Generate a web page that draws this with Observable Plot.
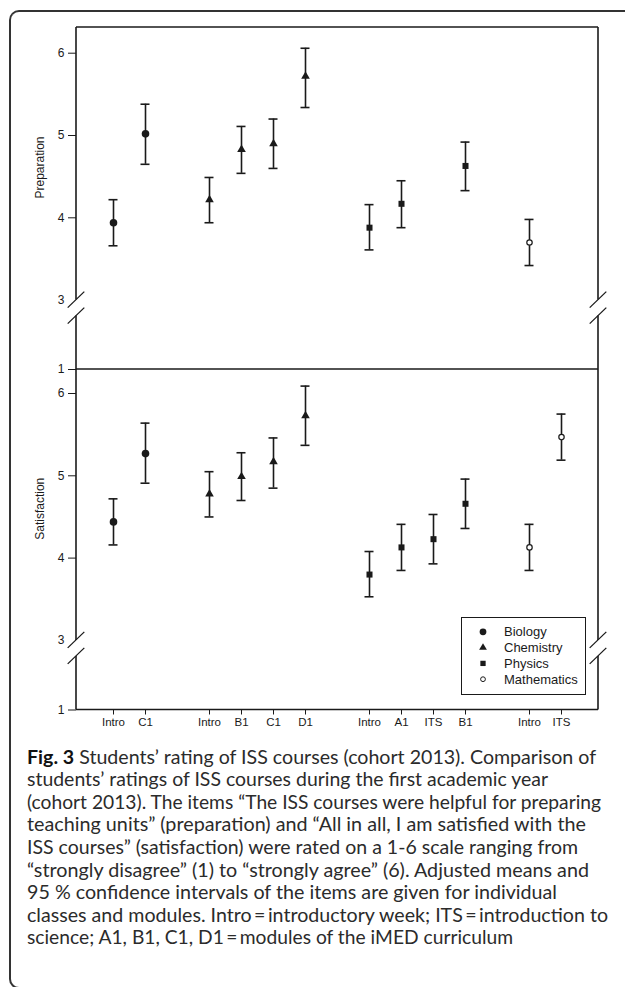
<!DOCTYPE html>
<html>
<head>
<meta charset="utf-8">
<script src="https://cdn.jsdelivr.net/npm/d3@7"></script>
<script src="https://cdn.jsdelivr.net/npm/@observablehq/plot@0.6"></script>
<style>
  body { margin: 0; background: #fff; }
  #wrap { position: relative; width: 625px; height: 987px; overflow: hidden; font-family: "Liberation Sans", Arial, sans-serif; }
  #wrap > svg, #wrap > div { position: absolute; }
  .capline { position: absolute; left: 27px; white-space: nowrap; font-family: Lato, "Open Sans", sans-serif; font-size: 18.8px; line-height: 22.6px; color: #2b2b2b; transform-origin: 0 50%; }
  .capline b { color: #111; font-weight: 700; }
</style>
</head>
<body>
<div id="wrap"></div>
<script>
// ---------- data ----------
const subjects = ["Biology","Biology","Chemistry","Chemistry","Chemistry","Chemistry","Physics","Physics","Physics","Physics","Mathematics","Mathematics"];
const courses  = ["Intro","C1","Intro","B1","C1","D1","Intro","A1","ITS","B1","Intro","ITS"];

const prepMean = [3.94, 5.02, 4.22, 4.83, 4.90, 5.72, 3.88, 4.17, null, 4.63, 3.70, null];
const prepLow  = [3.66, 4.65, 3.94, 4.54, 4.60, 5.34, 3.61, 3.88, null, 4.33, 3.42, null];
const prepHigh = [4.22, 5.38, 4.49, 5.11, 5.20, 6.06, 4.16, 4.45, null, 4.92, 3.98, null];

const satMean = [4.44, 5.27, 4.78, 4.99, 5.17, 5.73, 3.80, 4.13, 4.23, 4.66, 4.13, 5.47];
const satLow  = [4.16, 4.91, 4.50, 4.70, 4.85, 5.37, 3.53, 3.85, 3.93, 4.36, 3.85, 5.19];
const satHigh = [4.72, 5.64, 5.05, 5.28, 5.46, 6.09, 4.08, 4.41, 4.53, 4.96, 4.41, 5.75];

const yTicks = [1, 4, 5, 6];
const yBreakTick = [3];
const panelLabels = ["Preparation", "Satisfaction"];
const legendLabels = ["Biology", "Chemistry", "Physics", "Mathematics"];

const captionBold = "Fig. 3";
const captionLines = [
  " Students\u2019 rating of ISS courses (cohort 2013). Comparison of",
  "students\u2019 ratings of ISS courses during the first academic year",
  "(cohort 2013). The items \u201cThe ISS courses were helpful for preparing",
  "teaching units\u201d (preparation) and \u201cAll in all, I am satisfied with the",
  "ISS courses\u201d (satisfaction) were rated on a 1-6 scale ranging from",
  "\u201cstrongly disagree\u201d (1) to \u201cstrongly agree\u201d (6). Adjusted means and",
  "95 % confidence intervals of the items are given for individual",
  "classes and modules. Intro\u2009=\u2009introductory week; ITS\u2009=\u2009introduction to",
  "science; A1, B1, C1, D1\u2009=\u2009modules of the iMED curriculum"
];

// ---------- derived ----------
const keys = courses.map((c, i) => subjects[i] + "|" + c);
const xDomain = [];
subjects.forEach((s, i) => {
  if (i > 0 && s !== subjects[i - 1]) xDomain.push("gap|" + i);
  xDomain.push(keys[i]);
});
function rows(mean, low, high) {
  return keys.map((k, i) => ({key: k, subject: subjects[i], mean: mean[i], low: low[i], high: high[i]}))
             .filter(d => d.mean != null);
}
const prepData = rows(prepMean, prepLow, prepHigh);
const satData = rows(satMean, satLow, satHigh);

const INK = "#1a1a1a";
const dotStyle = {
  Biology:     {symbol: "circle",   r: 3.8, fill: INK},
  Chemistry:   {symbol: "triangle", r: 3.2, fill: INK},
  Physics:     {symbol: "square",   r: 3.4, fill: INK},
  Mathematics: {symbol: "circle",   r: 2.7, fill: "white", stroke: INK, strokeWidth: 1.2}
};

function frameMark(drawTop) {
  return (index, scales, values, dims) => {
    const y = scales.y;
    const left = dims.marginLeft, right = dims.width - dims.marginRight;
    const yTop = drawTop ? dims.marginTop : 0;
    const y3 = y(3), y1 = y(1), gap = 16;
    const g = d3.create("svg:g").attr("stroke", INK).attr("stroke-width", 1.6).attr("fill", "none");
    const seg = (x1, ya, x2, yb) => g.append("line").attr("x1", x1).attr("y1", ya).attr("x2", x2).attr("y2", yb);
    for (const xe of [left, right]) {
      seg(xe, yTop, xe, y3);
      seg(xe, y3 + gap, xe, y1);
      seg(xe - 8.3, y3 + 8, xe + 8.3, y3 - 8).attr("stroke-width", 1.3);
      seg(xe - 8.3, y3 + gap + 8, xe + 8.3, y3 + gap - 8).attr("stroke-width", 1.3);
    }
    if (drawTop) seg(left, yTop, right, yTop);
    seg(left, y1, right, y1);
    return g.node();
  };
}

function panelMarks(data, label, drawTop) {
  const m = [
    frameMark(drawTop),
    Plot.axisY(yTicks, {tickSize: 8, tickPadding: 4, fontSize: 12, tickFormat: d => String(d), label: null}),
    Plot.axisY(yBreakTick, {tickSize: 0, tickPadding: 12, fontSize: 12, tickFormat: d => String(d), label: null}),
    Plot.text([label], {text: d => d, frameAnchor: "left", rotate: -90, dx: -36, fontSize: 12, fill: INK}),
    Plot.ruleX(data, {x: "key", y1: "low", y2: "high", stroke: INK, strokeWidth: 1.6}),
    Plot.ruleY(data, {x1: "key", x2: "key", y: "low", insetLeft: -4.5, insetRight: -4.5, stroke: INK, strokeWidth: 1.6}),
    Plot.ruleY(data, {x1: "key", x2: "key", y: "high", insetLeft: -4.5, insetRight: -4.5, stroke: INK, strokeWidth: 1.6})
  ];
  for (const s of legendLabels) {
    const st = dotStyle[s];
    m.push(Plot.dot(data.filter(d => d.subject === s), {x: "key", y: "mean", ...st}));
  }
  return m;
}

const commonStyle = {fontFamily: "Liberation Sans, Arial, sans-serif", fontSize: "11px", color: INK, background: "transparent", overflow: "visible"};

const wrap = document.getElementById("wrap");

// outer frame (left/top border with rounded corners)
const frameDiv = document.createElement("div");
Object.assign(frameDiv.style, {left: "9px", top: "10px", width: "700px", height: "979px", boxSizing: "border-box",
  borderLeft: "2px solid #333", borderTop: "2px solid #333", borderBottom: "2px solid #333", borderRadius: "10px"});
wrap.appendChild(frameDiv);

// top panel
const topPlot = Plot.plot({
  width: 625, height: 372,
  marginLeft: 76, marginRight: 27, marginTop: 27, marginBottom: 3,
  style: commonStyle,
  x: {type: "point", domain: xDomain, padding: 1, axis: null, label: null},
  y: {type: "linear", domain: [1, 3, 6], range: [369, 299.6, 52.7], label: null},
  marks: panelMarks(prepData, panelLabels[0], true)
});
topPlot.style.left = "0px"; topPlot.style.top = "0px";
wrap.appendChild(topPlot);

// bottom panel
const tickKeys = xDomain.filter(k => !k.startsWith("gap|"));
const bottomPlot = Plot.plot({
  width: 625, height: 375,
  marginLeft: 76, marginRight: 27, marginTop: 0, marginBottom: 34.5,
  style: commonStyle,
  x: {type: "point", domain: xDomain, padding: 1, label: null},
  y: {type: "linear", domain: [1, 3, 6], range: [340.5, 270.9, 24], label: null},
  marks: [
    ...panelMarks(satData, panelLabels[1], false),
    Plot.axisX(tickKeys, {tickFormat: d => d.split("|")[1], tickSize: 5, tickPadding: 3, fontSize: 11.5, label: null})
  ]
});
bottomPlot.style.left = "0px"; bottomPlot.style.top = "369px";
wrap.appendChild(bottomPlot);

// legend
const leg = document.createElement("div");
Object.assign(leg.style, {left: "461px", top: "617px", width: "125px", height: "78px", boxSizing: "border-box",
  border: "1.6px solid " + INK, background: "#fff"});
const lsvg = d3.create("svg").attr("width", 125).attr("height", 78).style("position", "absolute").style("left", "-1.6px").style("top", "-1.6px");
const legSym = {Biology: [d3.symbolCircle, 36, INK], Chemistry: [d3.symbolTriangle, 26, INK], Physics: [d3.symbolSquare, 28, INK], Mathematics: [d3.symbolCircle, 18, "white"]};
legendLabels.forEach((s, i) => {
  const cy = 15.8 + i * 15.8;
  const [type, size, fill] = legSym[s];
  lsvg.append("path").attr("d", d3.symbol(type, size)()).attr("transform", `translate(23,${cy})`)
      .attr("fill", fill).attr("stroke", s === "Mathematics" ? INK : "none").attr("stroke-width", 1);
  lsvg.append("text").attr("x", 44).attr("y", cy).attr("dy", "0.35em").attr("font-size", 13)
      .attr("font-family", "Liberation Sans, Arial, sans-serif").attr("fill", INK).text(s);
});
leg.appendChild(lsvg.node());
wrap.appendChild(leg);

// caption (each line scaled horizontally to the reference's measure)
const capLengths = [569, 521, 574, 559, 551, 562, 530, 581, 486];
captionLines.forEach((line, i) => {
  const div = document.createElement("div");
  div.className = "capline";
  div.style.top = (745.6 + i * 22.6) + "px";
  if (i === 0) {
    const b = document.createElement("b");
    b.textContent = captionBold;
    div.appendChild(b);
    div.appendChild(document.createTextNode(line));
  } else {
    div.textContent = line;
  }
  wrap.appendChild(div);
  const w = div.getBoundingClientRect().width;
  div.style.transform = `scaleX(${capLengths[i] / w})`;
});
</script>
</body>
</html>
